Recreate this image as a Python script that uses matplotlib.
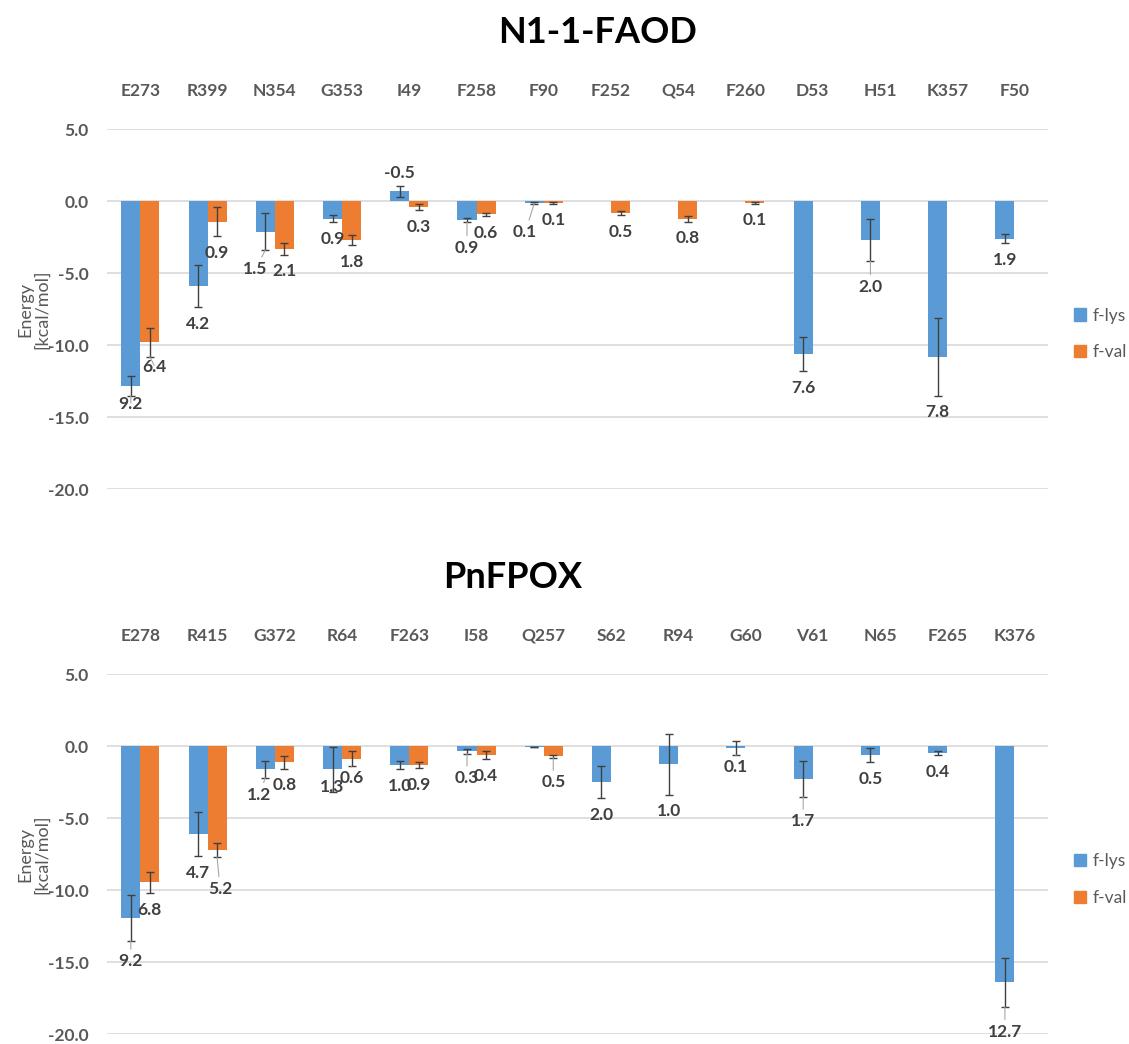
import numpy as np
import matplotlib.pyplot as plt
from matplotlib.patches import Patch

plt.rcParams['font.family'] = ['Lato', 'DejaVu Sans']

nan = np.nan

# N1-1-FAOD residues
faod_res = ['E273', 'R399', 'N354', 'G353', 'I49', 'F258', 'F90',
            'F252', 'Q54', 'F260', 'D53', 'H51', 'K357', 'F50']
faod_lys = [-12.8, -5.9, -2.1, -1.2, 0.7, -1.3, -0.1,
            nan, nan, nan, -10.6, -2.7, -10.8, -2.6]
faod_lys_err = [0.7, 1.45, 1.3, 0.25, 0.4, 0.15, 0.05,
                nan, nan, nan, 1.2, 1.45, 2.7, 0.3]
faod_val = [-9.8, -1.4, -3.3, -2.7, -0.4, -0.9, -0.1,
            -0.8, -1.2, -0.1, nan, nan, nan, nan]
faod_val_err = [1.0, 1.0, 0.4, 0.33, 0.2, 0.12, 0.05,
                0.15, 0.2, 0.05, nan, nan, nan, nan]
faod_lys_lab = [9.2, 4.2, 1.5, 0.9, -0.5, 0.9, 0.1,
                None, None, None, 7.6, 2.0, 7.8, 1.9]
faod_val_lab = [6.4, 0.9, 2.1, 1.8, 0.3, 0.6, 0.1,
                0.5, 0.8, 0.1, None, None, None, None]

# PnFPOX residues
fpox_res = ['E278', 'R415', 'G372', 'R64', 'F263', 'I58', 'Q257',
            'S62', 'R94', 'G60', 'V61', 'N65', 'F265', 'K376']
fpox_lys = [-11.9, -6.1, -1.6, -1.6, -1.3, -0.35, -0.03,
            -2.5, -1.25, -0.1, -2.25, -0.6, -0.45, -16.4]
fpox_lys_err = [1.6, 1.55, 0.6, 1.55, 0.3, 0.15, 0.0,
                1.1, 2.1, 0.5, 1.25, 0.5, 0.15, 1.7]
fpox_val = [-9.45, -7.2, -1.1, -0.85, -1.3, -0.6, -0.7,
            nan, nan, nan, nan, nan, nan, nan]
fpox_val_err = [0.75, 0.5, 0.45, 0.55, 0.2, 0.3, 0.1,
                nan, nan, nan, nan, nan, nan, nan]
fpox_lys_lab = [9.2, 4.7, 1.2, 1.3, 1.0, 0.3, None,
                2.0, 1.0, 0.1, 1.7, 0.5, 0.4, 12.7]
fpox_val_lab = [6.8, 5.2, 0.8, 0.6, 0.9, 0.4, 0.5,
                None, None, None, None, None, None, None]

# hand-moved data labels: (dx, dy) in pixels, dy > 0 moves down
label_moves = {
    ('E273', 'lys'): (0, -8), ('E273', 'val'): (5, -7),
    ('N354', 'lys'): (-10, 2), ('F258', 'lys'): (0, 9),
    ('F90', 'lys'): (-9, 12), ('H51', 'lys'): (0, 9),
    ('E278', 'lys'): (0, 4), ('R415', 'val'): (3, 15),
    ('G372', 'lys'): (-6, 0), ('R64', 'lys'): (0, -21),
    ('R64', 'val'): (0, -5), ('I58', 'lys'): (0, 8),
    ('Q257', 'val'): (0, 8), ('V61', 'lys'): (0, 8),
    ('G60', 'lys'): (0, -5), ('K376', 'lys'): (0, 8),
}

C_LYS = '#5B9BD5'
C_VAL = '#ED7D31'
GRAY = '#595959'
DARK = '#404040'
W = 0.283


def draw_panel(ax, title, title_x, res, lys, lys_err, val, val_err,
               lys_lab, val_lab, leg_y):
    x = np.arange(len(res))
    lys = np.array(lys, dtype=float)
    val = np.array(val, dtype=float)
    lys_err = np.array(lys_err, dtype=float)
    val_err = np.array(val_err, dtype=float)

    for key, off, v, e, labs, col in [('lys', -W / 2, lys, lys_err, lys_lab, C_LYS),
                                      ('val', W / 2, val, val_err, val_lab, C_VAL)]:
        xs = x + off
        ax.bar(xs, v, width=W, color=col, zorder=2)
        ax.errorbar(xs, v, yerr=e, fmt='none', ecolor=DARK, elinewidth=1,
                    capsize=3, capthick=1, zorder=3)
        for r, xi, vi, ei, lab in zip(res, xs, v, e, labs):
            if lab is None or np.isnan(vi):
                continue
            end = vi - ei if vi < 0 else vi + ei
            dy = -12 if vi < 0 else 9
            mx, my = label_moves.get((r, key), (0, 0))
            kw = {}
            if (r, key) in label_moves:
                kw['arrowprops'] = dict(arrowstyle='-', color='#A6A6A6', lw=0.8,
                                        shrinkA=1, shrinkB=0)
            ax.annotate(f'{lab:.1f}', (xi, end),
                        xytext=(mx * 0.72, dy - my * 0.72),
                        textcoords='offset points', ha='center', va='center',
                        fontsize=12.5, fontweight='bold', color=DARK, zorder=4, **kw)

    ax.set_xlim(-0.5, len(res) - 0.5)
    ax.set_ylim(-20, 5)
    ticks = [-20, -15, -10, -5, 0, 5]
    ax.set_yticks(ticks)
    ax.set_yticklabels([f'{t:.1f}' for t in ticks])
    ax.yaxis.grid(True, color='#D9D9D9', lw=1.2, zorder=0)
    ax.set_axisbelow(True)
    for s in ax.spines.values():
        s.set_visible(False)
    ax.xaxis.tick_top()
    ax.set_xticks(x)
    ax.set_xticklabels(res)
    ax.tick_params(axis='x', length=0, pad=22, labelsize=12.5, labelcolor=GRAY)
    ax.tick_params(axis='y', length=0, pad=13, labelsize=12.5, labelcolor=GRAY)
    for t in ax.get_xticklabels() + ax.get_yticklabels():
        t.set_fontweight('bold')
    ax.set_ylabel('Energy\n[kcal/mol]', fontsize=13, color=GRAY, linespacing=1.05)
    ax.yaxis.set_label_coords(-0.060, 0.5)
    ax.set_title(title, fontsize=26, fontweight='bold', color='black', pad=62,
                 x=title_x)

    handles = [Patch(color=C_LYS, label='f-lys'), Patch(color=C_VAL, label='f-val')]
    ax.legend(handles=handles, loc='center left', bbox_to_anchor=(1074 / 1129, leg_y),
              bbox_transform=fig.transFigure, frameon=False, fontsize=12.5,
              handlelength=0.7, handleheight=0.7, handletextpad=0.4,
              labelspacing=1.2, labelcolor=GRAY, borderaxespad=0, borderpad=0)


fig = plt.figure(figsize=(11.29, 10.44), dpi=100)
ax1 = fig.add_axes([0.0945, 0.5313, 0.8338, 0.3448])
ax2 = fig.add_axes([0.0945, 0.0093, 0.8338, 0.3448])

draw_panel(ax1, 'N1-1-FAOD', 0.521, faod_res, faod_lys, faod_lys_err, faod_val,
           faod_val_err, faod_lys_lab, faod_val_lab, 1 - 334 / 1044)
draw_panel(ax2, 'PnFPOX', 0.431, fpox_res, fpox_lys, fpox_lys_err, fpox_val,
           fpox_val_err, fpox_lys_lab, fpox_val_lab, 1 - 879.5 / 1044)

fig.savefig('out.png', dpi=100, facecolor='white')
